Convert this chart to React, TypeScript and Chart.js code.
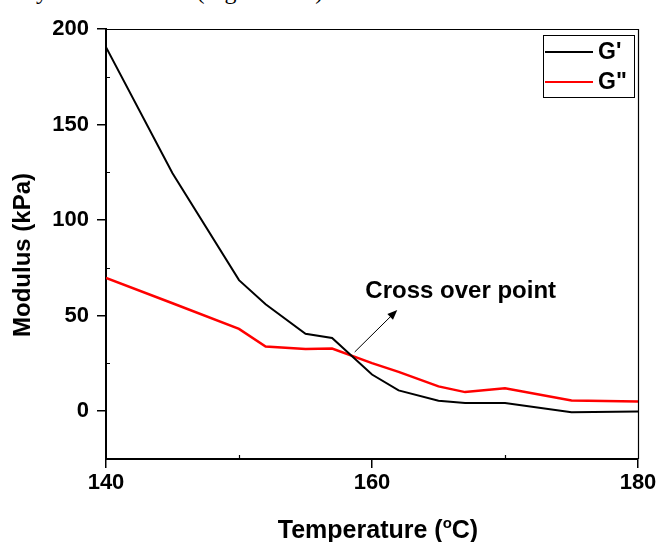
import React, { useEffect, useRef } from "react";
import { Chart, registerables } from "chart.js";

Chart.register(...registerables);

// ---- data ----
const temperatures = [140, 145, 150, 152, 155, 157, 160, 162, 165, 167, 170, 175, 180];
const gPrime = [190.5, 124.5, 68.6, 56.0, 40.5, 38.3, 19.2, 10.9, 5.5, 4.3, 4.3, -0.5, -0.1];
const gDoublePrime = [69.8, 56.5, 43.1, 33.9, 32.5, 32.8, 25.2, 20.6, 13.0, 10.0, 12.0, 5.6, 5.1];
const seriesLabels = ["G'", 'G"'];
const seriesColors = ["#000000", "#ff0000"];
const xTickValues = [140, 160, 180];
const yTickValues = [0, 50, 100, 150, 200];
const xMinorTicks = [150, 170];
const yMinorTicks = [25, 75, 125, 175];
const annotationText = "Cross over point";
const arrowFrom = [158.7, 31];
const arrowTo = [161.9, 53];
const annotationAt = [159.5, 62.5];
const xTitle = ["Temperature (", "o", "C)"];
const yTitle = "Modulus (kPa)";
const topLine = "by rheometer test (Figure 4.10)";

const FONT = '"Liberation Sans", Arial, sans-serif';

const decor = {
  id: "decor",
  afterDraw(chart: any) {
    const { ctx, chartArea: a, scales } = chart;
    const x = scales.x;
    const y = scales.y;
    ctx.save();
    ctx.strokeStyle = "#000";
    ctx.fillStyle = "#000";
    // top and right frame
    ctx.lineWidth = 1.2;
    ctx.beginPath();
    ctx.moveTo(a.left, a.top + 0.5);
    ctx.lineTo(a.right + 0.5, a.top + 0.5);
    ctx.lineTo(a.right + 0.5, a.bottom);
    ctx.stroke();
    // minor ticks (inward)
    ctx.lineWidth = 1.2;
    ctx.beginPath();
    for (const v of xMinorTicks) {
      const px = Math.round(x.getPixelForValue(v)) + 0.5;
      ctx.moveTo(px, a.bottom);
      ctx.lineTo(px, a.bottom - 4);
    }
    for (const v of yMinorTicks) {
      const py = Math.round(y.getPixelForValue(v)) + 0.5;
      ctx.moveTo(a.left, py);
      ctx.lineTo(a.left + 4, py);
    }
    ctx.stroke();

    // legend box
    const lx = 543, ly = 35, lw = 91, lh = 62;
    ctx.lineWidth = 1;
    ctx.strokeRect(lx + 0.5, ly + 0.5, lw, lh);
    chart.data.datasets.forEach((ds: any, i: number) => {
      const yy = ly + 17 + i * 30;
      ctx.strokeStyle = ds.borderColor;
      ctx.lineWidth = 2;
      ctx.beginPath();
      ctx.moveTo(lx + 2, yy);
      ctx.lineTo(lx + 50, yy);
      ctx.stroke();
      ctx.fillStyle = "#000";
      ctx.font = `bold 23px ${FONT}`;
      ctx.textAlign = "left";
      ctx.textBaseline = "middle";
      ctx.fillText(ds.label, lx + 55, yy + 1);
    });

    // annotation arrow
    const x0 = x.getPixelForValue(arrowFrom[0]);
    const y0 = y.getPixelForValue(arrowFrom[1]);
    const x1 = x.getPixelForValue(arrowTo[0]);
    const y1 = y.getPixelForValue(arrowTo[1]);
    const ang = Math.atan2(y1 - y0, x1 - x0);
    const hl = 10, hw = 4;
    ctx.strokeStyle = "#000";
    ctx.lineWidth = 1;
    ctx.beginPath();
    ctx.moveTo(x0, y0);
    ctx.lineTo(x1 - Math.cos(ang) * hl * 0.8, y1 - Math.sin(ang) * hl * 0.8);
    ctx.stroke();
    ctx.fillStyle = "#000";
    ctx.beginPath();
    ctx.moveTo(x1, y1);
    ctx.lineTo(
      x1 - Math.cos(ang) * hl - Math.sin(ang) * hw,
      y1 - Math.sin(ang) * hl + Math.cos(ang) * hw
    );
    ctx.lineTo(
      x1 - Math.cos(ang) * hl + Math.sin(ang) * hw,
      y1 - Math.sin(ang) * hl - Math.cos(ang) * hw
    );
    ctx.closePath();
    ctx.fill();
    ctx.font = `bold 24px ${FONT}`;
    ctx.textAlign = "left";
    ctx.textBaseline = "middle";
    ctx.fillText(annotationText, x.getPixelForValue(annotationAt[0]), y.getPixelForValue(annotationAt[1]));

    // x title with superscript
    const big = `bold 25px ${FONT}`;
    const small = `bold 15px ${FONT}`;
    ctx.font = big;
    const w0 = ctx.measureText(xTitle[0]).width;
    const w2 = ctx.measureText(xTitle[2]).width;
    ctx.font = small;
    const w1 = ctx.measureText(xTitle[1]).width;
    const total = w0 + w1 + w2;
    let cx = (a.left + a.right) / 2 - total / 2 + 6;
    const base = 538;
    ctx.textBaseline = "alphabetic";
    ctx.textAlign = "left";
    ctx.font = big;
    ctx.fillText(xTitle[0], cx, base);
    cx += w0;
    ctx.font = small;
    ctx.fillText(xTitle[1], cx, base - 10);
    cx += w1;
    ctx.font = big;
    ctx.fillText(xTitle[2], cx, base);

    // y title
    ctx.save();
    ctx.translate(23, 255);
    ctx.rotate(-Math.PI / 2);
    ctx.font = `bold 24px ${FONT}`;
    ctx.textAlign = "center";
    ctx.textBaseline = "middle";
    ctx.fillText(yTitle, 0, 0);
    ctx.restore();

    ctx.restore();
  },
};

export default function App() {
  const ref = useRef<HTMLCanvasElement>(null);
  useEffect(() => {
    if (!ref.current) return;
    const chart = new Chart(ref.current, {
      type: "line",
      data: {
        datasets: [
          {
            label: seriesLabels[0],
            data: temperatures.map((t, i) => ({ x: t, y: gPrime[i] })),
            borderColor: seriesColors[0],
            backgroundColor: seriesColors[0],
            borderWidth: 2,
            pointRadius: 0,
            tension: 0,
          },
          {
            label: seriesLabels[1],
            data: temperatures.map((t, i) => ({ x: t, y: gDoublePrime[i] })),
            borderColor: seriesColors[1],
            backgroundColor: seriesColors[1],
            borderWidth: 2.5,
            pointRadius: 0,
            tension: 0,
          },
        ],
      },
      options: {
        responsive: false,
        animation: false,
        events: [],
        layout: { padding: { left: 0, top: 29, right: 23, bottom: 0 } },
        plugins: { legend: { display: false }, tooltip: { enabled: false } },
        scales: {
          x: {
            type: "linear",
            min: 140,
            max: 180,
            afterBuildTicks: (s: any) => {
              s.ticks = xTickValues.map((v) => ({ value: v }));
            },
            afterFit: (s: any) => {
              s.height = 83;
            },
            ticks: {
              font: { family: FONT, size: 22, weight: "bold" },
              color: "#000",
              padding: 2,
              maxRotation: 0,
              autoSkip: false,
            },
            grid: {
              drawOnChartArea: false,
              drawTicks: true,
              tickLength: 9,
              tickColor: "#000",
              lineWidth: 1.5,
            },
            border: { display: true, color: "#000", width: 2 },
          },
          y: {
            type: "linear",
            min: -25,
            max: 200,
            afterBuildTicks: (s: any) => {
              s.ticks = yTickValues.map((v) => ({ value: v }));
            },
            afterFit: (s: any) => {
              s.width = 106;
            },
            ticks: {
              font: { family: FONT, size: 22, weight: "bold" },
              color: "#000",
              padding: 8,
              autoSkip: false,
            },
            grid: {
              drawOnChartArea: false,
              drawTicks: true,
              tickLength: 9,
              tickColor: "#000",
              lineWidth: 1.5,
            },
            border: { display: true, color: "#000", width: 2 },
          },
        },
      },
      plugins: [decor],
    });
    return () => chart.destroy();
  }, []);
  return (
    <div style={{ position: "fixed", left: 0, top: 0, width: 661, height: 542, background: "#fff", overflow: "hidden" }}>
      <div
        style={{
          position: "absolute",
          left: 24,
          top: -21,
          font: '24px "Liberation Serif", "Times New Roman", serif',
          lineHeight: "24px",
          whiteSpace: "nowrap",
          color: "#000",
        }}
      >
        {topLine}
      </div>
      <canvas ref={ref} width={661} height={542} style={{ position: "absolute", left: 0, top: 0, display: "block" }} />
    </div>
  );
}
